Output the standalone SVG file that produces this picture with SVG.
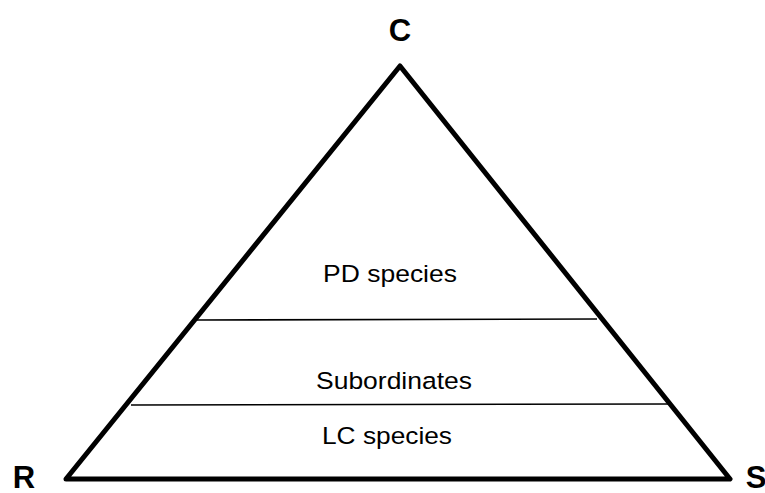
<svg xmlns="http://www.w3.org/2000/svg" width="765" height="493" viewBox="0 0 765 493">
<style>
.lbl{font-family:"Liberation Sans",Arial,sans-serif;font-size:24.5px;fill:#000;text-anchor:middle}
.vtx{font-family:"Liberation Sans",Arial,sans-serif;font-size:31px;font-weight:bold;fill:#000;text-anchor:middle}
.tri{fill:none;stroke:#000;stroke-width:5;stroke-linejoin:round;stroke-linecap:round}
.div{stroke:#000;stroke-width:1.6}
</style>
<rect width="765" height="493" fill="#fff"/>
<g id="triangle">
<polygon class="tri" points="66,479 400,66 730,479"/>
</g>
<g id="connectors">
<line class="div" x1="196" y1="320" x2="597" y2="319"/>
<line class="div" x1="131" y1="405" x2="668" y2="404"/>
</g>
<g id="vertex-C"><text class="vtx" x="400" y="41">C</text></g>
<g id="vertex-R"><text class="vtx" x="24" y="488">R</text></g>
<g id="vertex-S"><text class="vtx" x="756" y="488">S</text></g>
<g id="pd"><text class="lbl" x="390" y="282" textLength="134" lengthAdjust="spacingAndGlyphs">PD species</text></g>
<g id="sub"><text class="lbl" x="394" y="389" textLength="156" lengthAdjust="spacingAndGlyphs">Subordinates</text></g>
<g id="lc"><text class="lbl" x="387" y="444" textLength="130" lengthAdjust="spacingAndGlyphs">LC species</text></g>
</svg>
